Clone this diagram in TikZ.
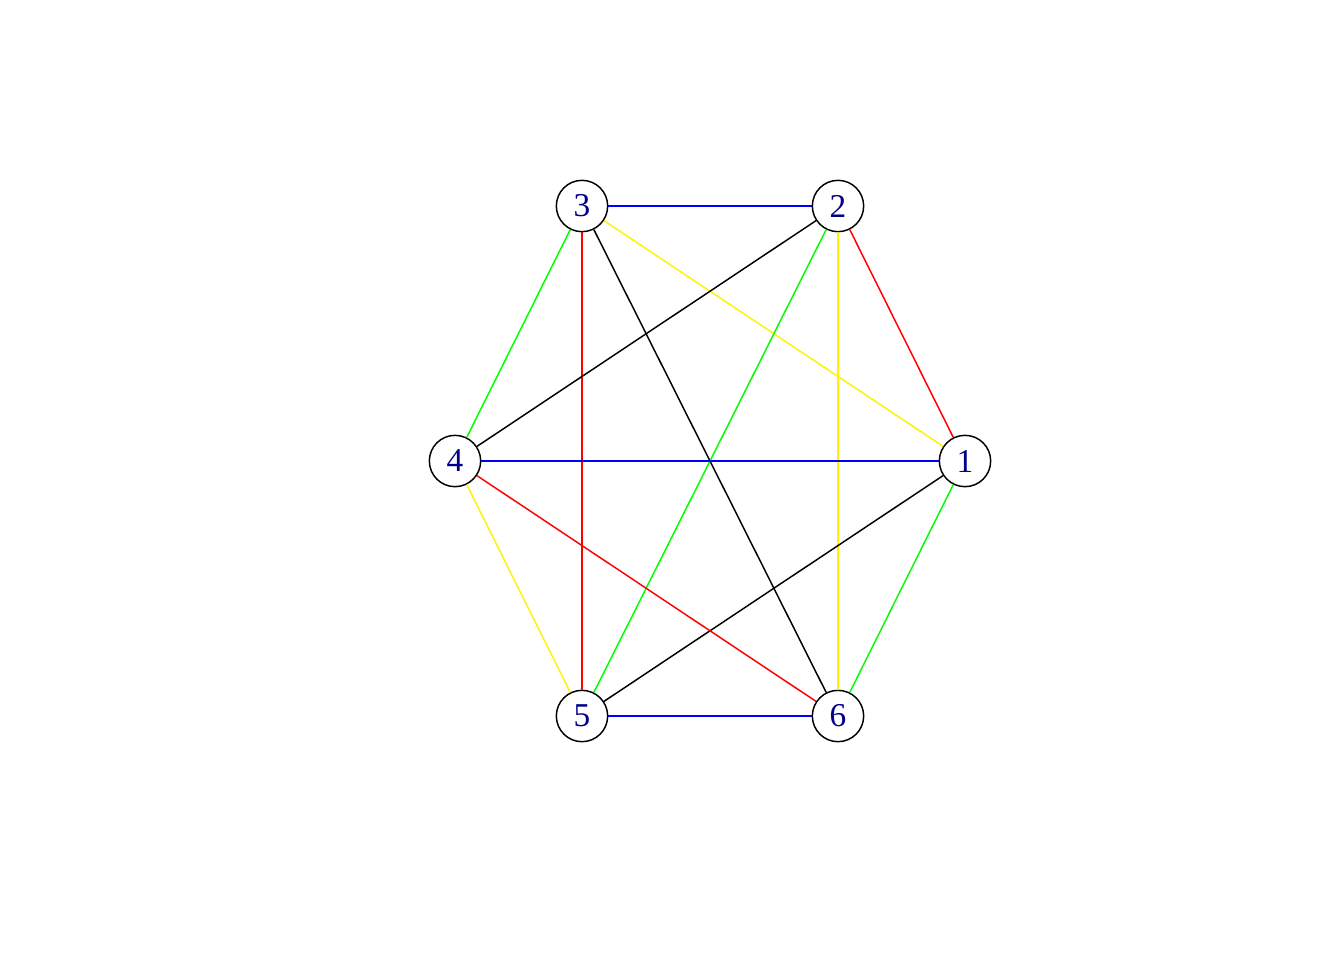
\documentclass[tikz,border=0pt]{standalone}
\usepackage{fontspec}
\setmainfont{Liberation Serif}
\definecolor{labelblue}{RGB}{0,0,139}
\begin{document}
\begin{tikzpicture}[x=0.75pt,y=-0.75pt,
  vtx/.style={circle,draw=black,line width=1.1pt,fill=white,minimum size=38.5pt,inner sep=0pt,
    text=labelblue,font=\fontsize{25}{25}\selectfont},
  edge/.style={line width=1.1pt}]
\useasboundingbox (0,0) rectangle (1344,960);
\node[vtx] (n1) at (965,461) {1};
\node[vtx] (n2) at (838,206) {2};
\node[vtx] (n3) at (582,206) {3};
\node[vtx] (n4) at (455,461) {4};
\node[vtx] (n5) at (582,716) {5};
\node[vtx] (n6) at (838,716) {6};
\draw[edge,blue] (n3) -- (n2);
\draw[edge,red] (n2) -- (n1);
\draw[edge,yellow] (n3) -- (n1);
\draw[edge,green] (n3) -- (n4);
\draw[edge,red] (n3) -- (n5);
\draw[edge,black] (n3) -- (n6);
\draw[edge,black] (n2) -- (n4);
\draw[edge,green] (n2) -- (n5);
\draw[edge,yellow] (n2) -- (n6);
\draw[edge,blue] (n4) -- (n1);
\draw[edge,black] (n1) -- (n5);
\draw[edge,green] (n1) -- (n6);
\draw[edge,yellow] (n4) -- (n5);
\draw[edge,red] (n4) -- (n6);
\draw[edge,blue] (n5) -- (n6);
\end{tikzpicture}
\end{document}
